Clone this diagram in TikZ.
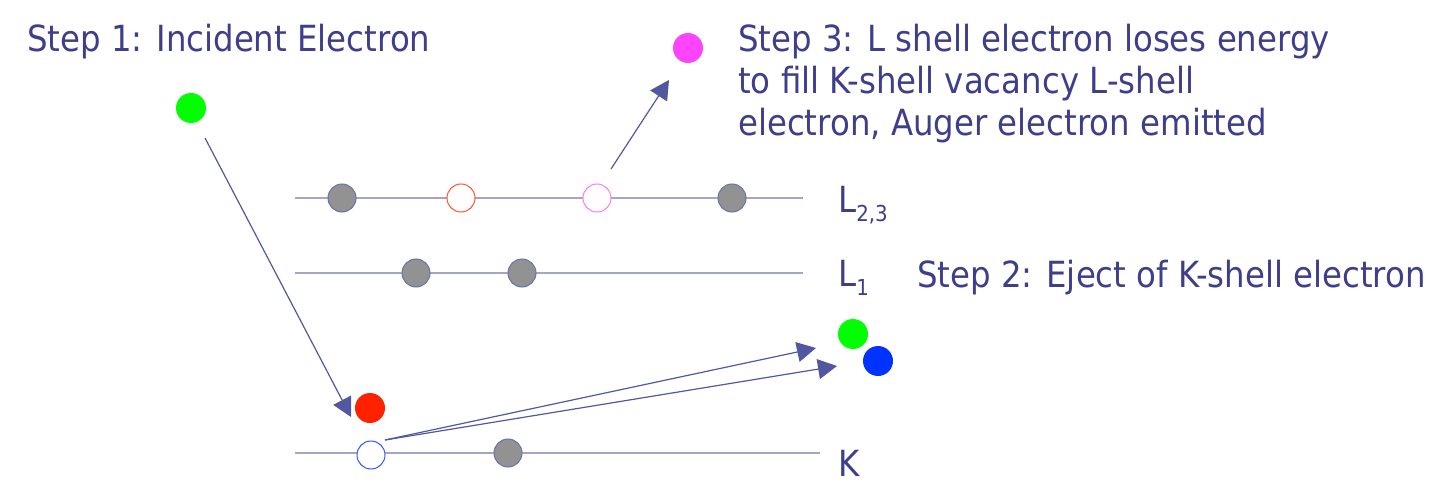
\documentclass[tikz,border=0pt]{standalone}
\usepackage{fontspec}
\setmainfont{DejaVu Sans}[FakeStretch=0.9]
\usetikzlibrary{arrows.meta}
\definecolor{txt}{RGB}{62,62,140}
\definecolor{lvl}{RGB}{165,165,200}
\definecolor{arr}{RGB}{82,88,160}
\definecolor{dotgray}{RGB}{146,146,146}
\definecolor{dotedge}{RGB}{106,114,168}
\definecolor{egreen}{RGB}{0,255,0}
\definecolor{ered}{RGB}{255,34,0}
\definecolor{eblue}{RGB}{0,51,255}
\definecolor{epink}{RGB}{255,68,255}
\definecolor{hred}{RGB}{255,85,50}
\definecolor{hpink}{RGB}{255,120,255}
\definecolor{hblue}{RGB}{50,85,255}
\tikzset{
  lbl/.style={text=txt, font=\fontsize{36}{42}\selectfont, inner sep=0pt, anchor=base west},
  level/.style={draw=lvl, line width=1.5pt},
  filled/.style={circle, inner sep=0pt, minimum size=30pt, fill=#1},
  elec/.style={circle, inner sep=0pt, minimum size=28pt, fill=dotgray, draw=dotedge, line width=1pt},
  hole/.style={circle, inner sep=0pt, minimum size=28pt, fill=white, draw=#1, line width=1pt},
  jump/.style={draw=arr, line width=1.2pt, -{Triangle[length=19pt,width=20pt]}},
}
\begin{document}
\begin{tikzpicture}[x=1pt,y=-1pt]
\useasboundingbox (0,0) rectangle (1456,497);
% levels
\coordinate (L23a) at (295,198); \coordinate (L23b) at (803,198);
\coordinate (L1a) at (295,273); \coordinate (L1b) at (803,273);
\coordinate (Ka) at (295,453); \coordinate (Kb) at (820,453);
\draw[level] (L23a) -- (L23b);
\draw[level] (L1a) -- (L1b);
\draw[level] (Ka) -- (Kb);
% electrons on levels
\node[elec] (e1) at (342,198) {};
\node[hole=hred] (h1) at (461,198) {};
\node[hole=hpink] (h2) at (597,198) {};
\node[elec] (e2) at (732,198) {};
\node[elec] (e3) at (416,273) {};
\node[elec] (e4) at (522,273) {};
\node[hole=hblue] (hK) at (371,455) {};
\node[elec] (e5) at (508,453) {};
% free electrons
\node[filled=egreen] (inc) at (191,108) {};
\node[filled=ered] (red) at (370,408) {};
\node[filled=epink] (aug) at (688,48) {};
\node[filled=egreen] (gout) at (853,334) {};
\node[filled=eblue] (bout) at (878,361) {};
% arrows
\coordinate (a1s) at (205,138); \coordinate (a1e) at (351,417);
\coordinate (a2s) at (611,169); \coordinate (a2e) at (669,80);
\coordinate (a3s) at (385,440); \coordinate (a3e) at (816,348);
\coordinate (a4e) at (837,366);
\draw[jump] (a1s) -- (a1e);
\draw[jump] (a2s) -- (a2e);
\draw[jump] (a3s) -- (a3e);
\draw[jump] (a3s) -- (a4e);
% texts
\node[lbl] (s1) at (27,52) {Step 1: Incident Electron};
\node[lbl] (s3a) at (738,52) {Step 3: L shell electron loses energy};
\node[lbl] (s3b) at (738,94) {to fill K-shell vacancy L-shell};
\node[lbl] (s3c) at (738,136) {electron, Auger electron emitted};
\node[lbl] (s2) at (917,287) {Step 2: Eject of K-shell electron};
\node[lbl] (lL23) at (838,213) {L\raisebox{-9pt}{\fontsize{22}{22}\selectfont 2,3}};
\node[lbl] (lL1) at (838,286) {L\raisebox{-9pt}{\fontsize{22}{22}\selectfont 1}};
\node[lbl] (lK) at (838,476) {K};
\end{tikzpicture}
\end{document}
